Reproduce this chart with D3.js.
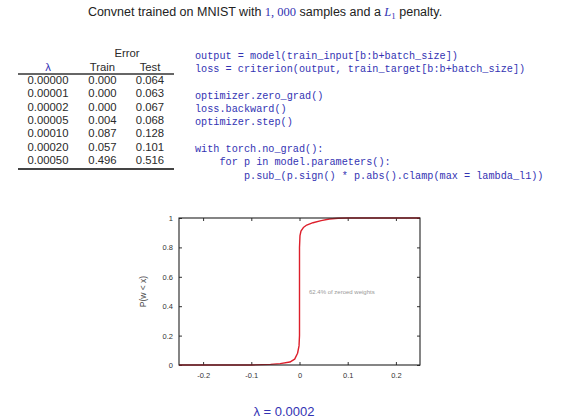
<!DOCTYPE html>
<html>
<head>
<meta charset="utf-8">
<script src="https://cdn.jsdelivr.net/npm/d3@7"></script>
<style>
  body { margin: 0; background: #fff; }
  svg { display: block; }
</style>
</head>
<body>
<div id="slide"></div>
<script>
// table data
const lambdas  = ["0.00000", "0.00001", "0.00002", "0.00005", "0.00010", "0.00020", "0.00050"];
const trainErr = ["0.000", "0.000", "0.000", "0.004", "0.087", "0.057", "0.496"];
const testErr  = ["0.064", "0.063", "0.067", "0.068", "0.128", "0.101", "0.516"];

// code snippet
const codeLines = [
  "output = model(train_input[b:b+batch_size])",
  "loss = criterion(output, train_target[b:b+batch_size])",
  "",
  "optimizer.zero_grad()",
  "loss.backward()",
  "optimizer.step()",
  "",
  "with torch.no_grad():",
  "    for p in model.parameters():",
  "        p.sub_(p.sign() * p.abs().clamp(max = lambda_l1))"
];

const cdfX = [-0.25, -0.1, -0.06, -0.04, -0.02, -0.01, -0.004, -0.001, 0, 0, 0.001, 0.003, 0.008, 0.015, 0.028, 0.045, 0.062, 0.08, 0.1, 0.25];
const cdfP = [0, 0, 0.004, 0.009, 0.02, 0.04, 0.08, 0.13, 0.2, 0.8, 0.88, 0.91, 0.935, 0.952, 0.968, 0.982, 0.993, 0.998, 1, 1];

const xTicks = [-0.2, -0.1, 0, 0.1, 0.2];
const yTicks = [0, 0.2, 0.4, 0.6, 0.8, 1];
const note = "62.4% of zeroed weights";
const lambdaValue = "0.0002";

const blue = "#3333b3";
const W = 565, H = 420;

const svg = d3.select("#slide").append("svg")
  .attr("width", W)
  .attr("height", H)
  .style("font-family", "'Liberation Sans', Arial, sans-serif");

svg.append("rect").attr("width", W).attr("height", H).attr("fill", "#fff");

// titel
const title = svg.append("text")
  .attr("x", 265).attr("y", 16)
  .attr("text-anchor", "middle")
  .attr("font-size", 12.5)
  .attr("fill", "#222");
title.append("tspan").text("Convnet trained on MNIST with ");
title.append("tspan").attr("fill", blue).attr("font-family", "'Liberation Serif', serif").text("1, 000");
title.append("tspan").text(" samples and a ");
title.append("tspan").attr("fill", blue).attr("font-family", "'Liberation Serif', serif").attr("font-style", "italic").text("L");
title.append("tspan").attr("fill", blue).attr("font-family", "'Liberation Serif', serif").attr("font-size", 9).attr("dy", 3).text("1");
title.append("tspan").attr("dy", -3).text(" penalty.");

// tabelle
const colX = [48, 102.5, 150];
const rowY = d3.scaleLinear().domain([0, 1]).range([83.8, 97.2]);
const tab = svg.append("g").attr("font-size", 11.3).attr("fill", "#2a2a2a").attr("text-anchor", "middle");

tab.append("text").attr("x", 127).attr("y", 56.5).text("Error");
tab.append("text").attr("x", colX[0]).attr("y", 70.5).attr("fill", blue).text("λ");
tab.append("text").attr("x", colX[1]).attr("y", 70.5).text("Train");
tab.append("text").attr("x", colX[2]).attr("y", 70.5).text("Test");

tab.append("line").attr("x1", 18).attr("x2", 174).attr("y1", 74).attr("y2", 74)
  .attr("stroke", "#333").attr("stroke-width", 1.5);
tab.append("line").attr("x1", 18).attr("x2", 174).attr("y1", 169).attr("y2", 169)
  .attr("stroke", "#444").attr("stroke-width", 1.8);

[lambdas, trainErr, testErr].forEach((col, c) => {
  tab.selectAll(null)
    .data(col)
    .enter()
    .append("text")
      .attr("x", colX[c])
      .attr("y", (d, i) => rowY(i))
      .text(d => d);
});

// code
const code = svg.append("g")
  .attr("font-family", "'Liberation Mono', 'DejaVu Sans Mono', monospace")
  .attr("font-size", 10.2)
  .attr("fill", blue);

code.selectAll("text")
  .data(codeLines)
  .enter()
  .append("text")
    .attr("x", 195)
    .attr("y", (d, i) => 58.5 + i * 13.35)
    .attr("xml:space", "preserve")
    .style("white-space", "pre")
    .text(d => d);

// plot
const x = d3.scaleLinear().domain([-0.25, 0.25]).range([179, 420]);
const y = d3.scaleLinear().domain([0, 1]).range([365, 218]);
const fmt = d => String(+d.toFixed(1));

const plot = svg.append("g");

const axBottom = plot.append("g")
  .attr("transform", `translate(0,${y(0)})`)
  .call(d3.axisBottom(x).tickValues(xTicks).tickSize(-3).tickPadding(8).tickFormat(fmt));
const axLeft = plot.append("g")
  .attr("transform", `translate(${x(-0.25)},0)`)
  .call(d3.axisLeft(y).tickValues(yTicks).tickSize(-3).tickPadding(6).tickFormat(fmt));
const axTop = plot.append("g")
  .attr("transform", `translate(0,${y(1)})`)
  .call(d3.axisTop(x).tickValues(xTicks).tickSize(-3).tickFormat(""));
const axRight = plot.append("g")
  .attr("transform", `translate(${x(0.25)},0)`)
  .call(d3.axisRight(y).tickValues(yTicks).tickSize(-3).tickFormat(""));

[axBottom, axLeft, axTop, axRight].forEach(a => {
  a.select(".domain").remove();
  a.selectAll(".tick line").attr("stroke", "#333");
  a.selectAll(".tick text")
    .attr("font-family", "'Liberation Sans', Arial, sans-serif")
    .attr("font-size", 7.5)
    .attr("fill", "#333");
});

plot.append("text")
  .attr("transform", `translate(146,${y(0.5)}) rotate(-90)`)
  .attr("text-anchor", "middle")
  .attr("font-size", 8.5)
  .attr("fill", "#444")
  .text("P(w < x)");

plot.append("text")
  .attr("x", 309).attr("y", y(0.5) + 2)
  .attr("font-size", 6)
  .attr("fill", "#999")
  .text(note);

const line = d3.line()
  .x((d, i) => x(cdfX[i]))
  .y(d => y(d));

plot.append("path")
  .attr("d", line(cdfP))
  .attr("fill", "none")
  .attr("stroke", "#dd1f2b")
  .attr("stroke-width", 1.4)
  .attr("stroke-linejoin", "round");

plot.append("rect")
  .attr("x", x(-0.25)).attr("y", y(1))
  .attr("width", x(0.25) - x(-0.25))
  .attr("height", y(0) - y(1))
  .attr("fill", "none")
  .attr("stroke", "#222")
  .attr("stroke-width", 1.1);

// caption
const cap = svg.append("text")
  .attr("x", 284).attr("y", 416)
  .attr("text-anchor", "middle")
  .attr("font-size", 13)
  .attr("fill", blue);
cap.append("tspan").text("λ = " + lambdaValue);
</script>
</body>
</html>
